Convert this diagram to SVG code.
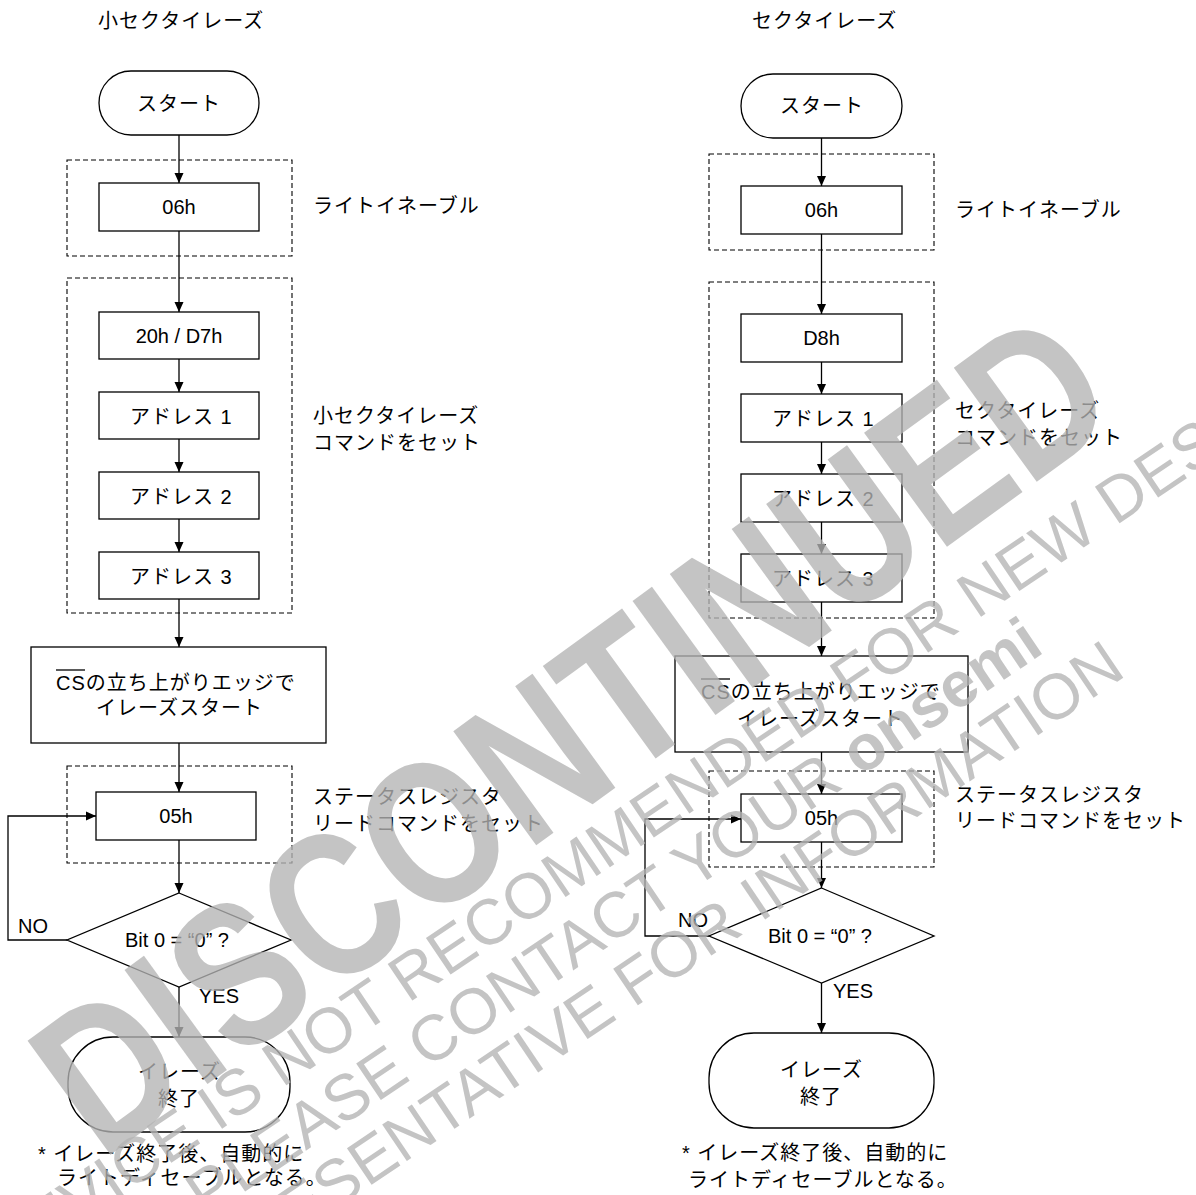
<svg xmlns="http://www.w3.org/2000/svg" width="1196" height="1195" viewBox="0 0 1196 1195">
<style>
.box{fill:#fff;stroke:#000;stroke-width:1.3}
.dash{fill:none;stroke:#000;stroke-width:1.1;stroke-dasharray:5 3}
.ln{fill:none;stroke:#000;stroke-width:1.3;marker-end:url(#ah)}
.jp{font-family:"Liberation Sans","Noto Sans CJK JP",sans-serif;font-size:20px;letter-spacing:1px;fill:#000}
.en{font-family:"Liberation Sans",sans-serif;font-size:20px;fill:#000}
.mid{text-anchor:middle}
.wm{font-family:"Liberation Sans",sans-serif;fill:#b4b4b4;fill-opacity:0.78}
</style>
<defs>
<marker id="ah" markerUnits="userSpaceOnUse" markerWidth="10" markerHeight="10" refX="10" refY="5" orient="auto">
<path d="M0,0.5 L10,5 L0,9.5 z" fill="#000"/>
</marker>
</defs>
<rect width="1196" height="1195" fill="#fff"/>

<g id="left-title"><text class="jp" x="98" y="28">小セクタイレーズ</text></g>
<g id="right-title"><text class="jp" x="752" y="28">セクタイレーズ</text></g>

<!-- left flow -->
<g id="L-group-we"><rect class="dash" x="67" y="160" width="225" height="96"/><text class="jp" x="313" y="213">ライトイネーブル</text></g>
<g id="L-group-cmd"><rect class="dash" x="67" y="278" width="225" height="335"/><text class="jp" x="313" y="423">小セクタイレーズ</text><text class="jp" x="313" y="450">コマンドをセット</text></g>
<g id="L-group-rd"><rect class="dash" x="67" y="766" width="225" height="97"/><text class="jp" x="313" y="804">ステータスレジスタ</text><text class="jp" x="313" y="831">リードコマンドをセット</text></g>

<g id="L-start"><rect class="box" x="99" y="71" width="160" height="64" rx="32"/><text class="jp" x="137" y="111">スタート</text></g>
<g id="L-06h"><rect class="box" x="99" y="183" width="160" height="48"/><text class="en mid" x="179" y="214">06h</text></g>
<g id="L-20h"><rect class="box" x="99" y="312" width="160" height="47"/><text class="en mid" x="179" y="343">20h / D7h</text></g>
<g id="L-addr1"><rect class="box" x="99" y="392" width="160" height="47"/><text class="jp" x="130" y="424">アドレス 1</text></g>
<g id="L-addr2"><rect class="box" x="99" y="472" width="160" height="47"/><text class="jp" x="130" y="504">アドレス 2</text></g>
<g id="L-addr3"><rect class="box" x="99" y="552" width="160" height="47"/><text class="jp" x="130" y="584">アドレス 3</text></g>
<g id="L-cs"><rect class="box" x="31" y="647" width="295" height="96"/><text class="jp" x="56" y="690">CSの立ち上がりエッジで</text><line x1="56" y1="670" x2="85" y2="670" stroke="#000" stroke-width="1.3"/><text class="jp" x="96" y="715">イレーズスタート</text></g>
<g id="L-05h"><rect class="box" x="96" y="792" width="160" height="48"/><text class="en mid" x="176" y="823">05h</text></g>
<g id="L-dec"><polygon class="box" points="179,893 291,940 179,987 67,940"/><text class="en mid" x="177" y="947">Bit 0 = “0” ?</text></g>
<g id="L-end"><rect class="box" x="68" y="1037" width="222" height="95" rx="45"/><text class="jp" x="138" y="1079">イレーズ</text><text class="jp" x="158" y="1106">終了</text></g>
<g id="L-note"><text class="jp" x="38" y="1161">* イレーズ終了後、自動的に</text><text class="jp" x="57" y="1185">ライトディセーブルとなる。</text></g>

<!-- right flow -->
<g id="R-group-we"><rect class="dash" x="709" y="154" width="225" height="96"/><text class="jp" x="955" y="217">ライトイネーブル</text></g>
<g id="R-group-cmd"><rect class="dash" x="709" y="282" width="225" height="336"/><text class="jp" x="955" y="418">セクタイレーズ</text><text class="jp" x="955" y="445">コマンドをセット</text></g>
<g id="R-group-rd"><rect class="dash" x="709" y="771" width="225" height="96"/><text class="jp" x="955" y="802">ステータスレジスタ</text><text class="jp" x="955" y="828">リードコマンドをセット</text></g>

<g id="R-start"><rect class="box" x="741" y="74" width="161" height="64" rx="32"/><text class="jp" x="780" y="113">スタート</text></g>
<g id="R-06h"><rect class="box" x="741" y="186" width="161" height="48"/><text class="en mid" x="821.5" y="217">06h</text></g>
<g id="R-D8h"><rect class="box" x="741" y="314" width="161" height="48"/><text class="en mid" x="821.5" y="345">D8h</text></g>
<g id="R-addr1"><rect class="box" x="741" y="394" width="161" height="48"/><text class="jp" x="772" y="426">アドレス 1</text></g>
<g id="R-addr2"><rect class="box" x="741" y="474" width="161" height="48"/><text class="jp" x="772" y="506">アドレス 2</text></g>
<g id="R-addr3"><rect class="box" x="741" y="554" width="161" height="48"/><text class="jp" x="772" y="586">アドレス 3</text></g>
<g id="R-cs"><rect class="box" x="675" y="656" width="293" height="96"/><text class="jp" x="701" y="699">CSの立ち上がりエッジで</text><line x1="701" y1="679" x2="730" y2="679" stroke="#000" stroke-width="1.3"/><text class="jp" x="737" y="726">イレーズスタート</text></g>
<g id="R-05h"><rect class="box" x="741" y="794" width="161" height="48"/><text class="en mid" x="821.5" y="825">05h</text></g>
<g id="R-dec"><polygon class="box" points="821.5,888 934,936 821.5,983 709,936"/><text class="en mid" x="820" y="943">Bit 0 = “0” ?</text></g>
<g id="R-end"><rect class="box" x="709" y="1033" width="225" height="95" rx="45"/><text class="jp" x="780" y="1077">イレーズ</text><text class="jp" x="800" y="1104">終了</text></g>
<g id="R-note"><text class="jp" x="682" y="1160">* イレーズ終了後、自動的に</text><text class="jp" x="688" y="1187">ライトディセーブルとなる。</text></g>

<g id="connectors">
<path class="ln" d="M179 135 V183"/>
<path class="ln" d="M179 231 V312"/>
<path class="ln" d="M179 359 V392"/>
<path class="ln" d="M179 439 V472"/>
<path class="ln" d="M179 519 V552"/>
<path class="ln" d="M179 599 V647"/>
<path class="ln" d="M179 743 V792"/>
<path class="ln" d="M179 840 V893"/>
<path class="ln" d="M179 987 V1037"/>
<path class="ln" d="M67 940 H8 V816 H96"/>
<path class="ln" d="M821.5 138 V186"/>
<path class="ln" d="M821.5 234 V314"/>
<path class="ln" d="M821.5 362 V394"/>
<path class="ln" d="M821.5 442 V474"/>
<path class="ln" d="M821.5 522 V554"/>
<path class="ln" d="M821.5 602 V656"/>
<path class="ln" d="M821.5 752 V794"/>
<path class="ln" d="M821.5 842 V888"/>
<path class="ln" d="M821.5 983 V1033"/>
<path class="ln" d="M709 936 H645 V819 H741"/>
<text class="en" x="18" y="933">NO</text>
<text class="en" x="199" y="1003">YES</text>
<text class="en" x="678" y="927">NO</text>
<text class="en" x="833" y="998">YES</text>
</g>

<g id="watermark">
<text class="wm" transform="rotate(-36)" x="32" y="999" font-size="205" font-weight="bold" text-anchor="middle" textLength="1265" lengthAdjust="spacingAndGlyphs">DISCONTINUED</text>
<g transform="rotate(-34)">
<text class="wm" x="-709" y="1060" font-size="64">DEVICE IS NOT RECOMMENDED FOR NEW DESIGNS</text>
<text class="wm" x="-511" y="1125" font-size="64">PLEASE CONTACT YOUR <tspan font-weight="bold">onsemi</tspan></text>
<text class="wm" x="-623" y="1190" font-size="64">REPRESENTATIVE FOR INFORMATION</text>
</g>
</g>
</svg>
